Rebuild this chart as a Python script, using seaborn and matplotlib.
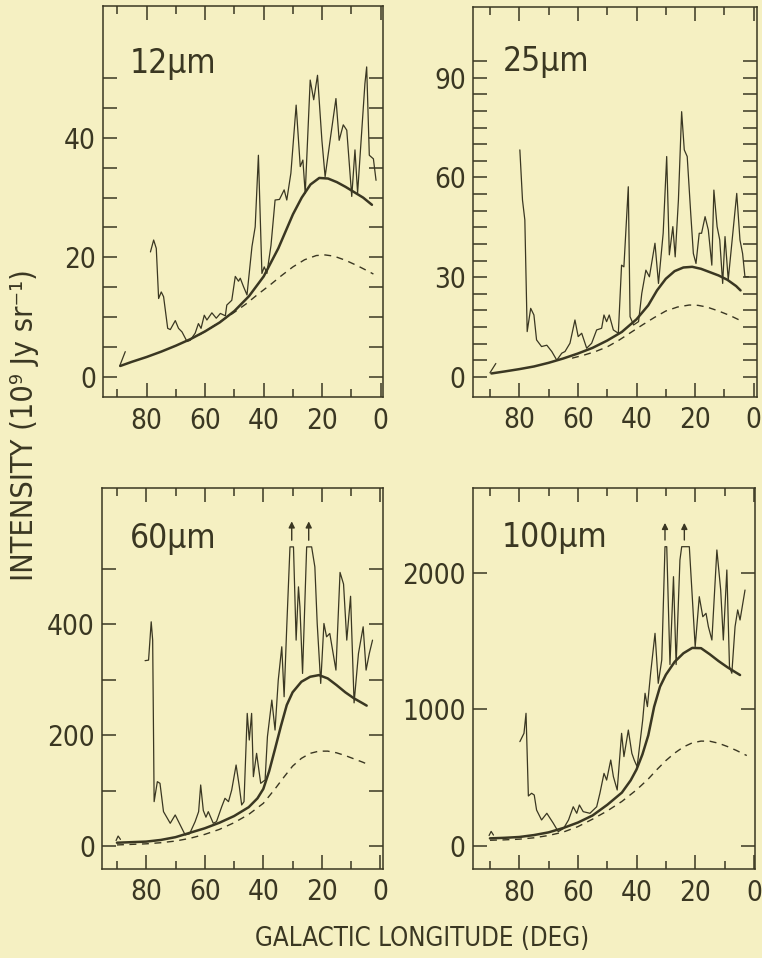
import numpy as np
import matplotlib
matplotlib.use("Agg")
import matplotlib.pyplot as plt
import seaborn as sns

# galactic longitude (deg) / intensity (1e9 Jy/sr)

# ---- 12 micron ----
obs12_lon = [78.7, 77.6, 76.7, 75.9, 75.0, 74.2, 72.8, 71.9, 70.2, 69.1,
             67.9, 66.2, 65.1, 63.4, 62.3, 61.4, 60.3, 59.4, 57.7, 56.2,
             54.8, 53.1, 52.6, 50.9, 49.7, 48.6, 48.0, 46.9, 45.7, 44.0,
             42.9, 41.8, 40.6, 39.8, 38.9, 37.5, 36.1, 34.6, 33.0, 32.1,
             30.7, 28.9, 27.5, 26.6, 25.8, 24.1, 22.9, 21.6, 20.1, 19.0,
             17.3, 15.3, 14.2, 12.8, 11.6, 9.9, 8.8, 7.9, 5.4, 4.8,
             3.9, 2.5, 1.6]
obs12_val = [20.9, 22.9, 21.5, 13.1, 14.2, 13.4, 8.1, 7.9, 9.4, 8.1,
             7.5, 5.9, 6.1, 7.3, 8.9, 8.1, 10.3, 9.5, 10.7, 9.8,
             10.6, 10.2, 12.0, 12.8, 16.8, 16.0, 16.5, 15.1, 13.7, 21.8,
             25.1, 37.1, 17.3, 18.4, 17.3, 22.0, 29.6, 29.7, 31.3, 29.6,
             34.1, 45.5, 35.2, 36.3, 30.7, 49.7, 46.4, 50.5, 39.6, 33.5,
             39.6, 46.6, 39.6, 42.2, 41.3, 30.2, 38.0, 30.8, 49.1, 51.9,
             37.1, 36.5, 32.9]
stub12_lon = [89.2, 87.3]
stub12_val = [1.8, 4.2]
model12_lon = [89, 85, 80, 75, 70, 65, 60, 55, 50, 45, 40, 35, 30, 27, 24,
               21, 18, 15, 12, 9, 6, 3]
model12_val = [1.8, 2.5, 3.3, 4.2, 5.2, 6.3, 7.6, 9.1, 11.0, 13.5, 16.8,
               21.5, 27.2, 30.0, 32.2, 33.3, 33.2, 32.6, 31.8, 30.9, 30.0, 28.8]
dash12_lon = [62, 58, 54, 50, 46, 42, 38, 34, 30, 26, 22, 19, 16, 12, 8, 4, 2.5]
dash12_val = [7.0, 8.2, 9.5, 10.8, 12.2, 13.8, 15.3, 16.9, 18.4, 19.6, 20.3,
              20.4, 20.2, 19.5, 18.6, 17.6, 17.2]

# ---- 25 micron ----
obs25_lon = [79.8, 78.9, 78.1, 77.3, 76.1, 75.0, 74.1, 72.4, 70.6, 68.9,
             67.2, 65.5, 64.4, 62.7, 61.0, 59.9, 58.7, 57.0, 55.3, 53.6,
             51.9, 51.1, 50.2, 49.3, 47.9, 46.2, 45.1, 44.3, 42.8, 42.2,
             41.0, 39.3, 38.2, 36.8, 35.6, 33.7, 32.5, 30.9, 29.7, 28.8,
             27.6, 26.8, 25.7, 24.6, 23.7, 22.7, 21.5, 20.6, 19.7, 18.6,
             17.8, 16.6, 15.5, 14.3, 13.6, 12.5, 11.6, 10.6, 9.8, 8.7,
             5.8, 4.7, 3.8, 3.0, 1.8]
obs25_val = [68.3, 53.2, 47.2, 13.6, 20.6, 18.6, 11.1, 9.1, 9.5, 7.6,
             5.0, 7.1, 7.6, 10.1, 17.1, 12.1, 13.1, 8.6, 10.1, 14.1,
             14.6, 18.6, 16.6, 18.6, 14.1, 13.1, 33.6, 33.1, 57.2, 18.1,
             15.6, 16.6, 25.1, 32.1, 30.1, 40.2, 28.1, 43.2, 66.3, 36.7,
             45.2, 36.1, 53.2, 79.8, 68.3, 66.3, 49.2, 37.1, 34.1, 43.2,
             43.2, 48.2, 44.2, 33.6, 56.2, 45.2, 41.2, 28.1, 42.2, 29.2,
             55.2, 41.2, 37.1, 30.1, 30.1]
stub25_lon = [90.0, 88.0]
stub25_val = [1.2, 4.0]
model25_lon = [89.5, 85, 80, 75, 70, 65, 60, 55, 50, 45, 40, 36, 33, 30, 27,
               24, 21, 18, 15, 12, 9, 6, 4.5]
model25_val = [1.0, 1.6, 2.3, 3.1, 4.2, 5.5, 7.0, 8.7, 10.9, 13.5, 17.3,
               21.5, 26.0, 29.5, 31.8, 32.9, 33.1, 32.5, 31.5, 30.5, 29.2,
               27.3, 26.0]
dash25_lon = [62, 58, 54, 50, 46, 42, 38, 34, 30, 26, 22, 19, 16, 12, 8, 4.7]
dash25_val = [5.6, 6.5, 7.6, 9.0, 11.0, 13.3, 15.6, 17.8, 19.8, 21.0, 21.6,
              21.5, 21.0, 19.8, 18.4, 17.0]

# ---- 60 micron ----
obs60_lon = [80.4, 79.2, 78.3, 77.8, 77.3, 76.2, 75.3, 74.1, 73.0, 71.8,
             70.1, 68.4, 66.7, 65.2, 63.3, 62.1, 61.4, 60.5, 59.6, 58.8,
             57.1, 56.0, 54.2, 53.1, 51.9, 50.8, 49.3, 48.2, 47.4, 46.6,
             45.5, 44.8, 44.0, 43.4, 42.3, 40.9, 39.4, 38.6, 37.1, 36.0,
             34.9, 33.7, 32.9, 32.0, 30.9, 29.7, 28.8, 28.0, 27.5, 26.6,
             25.2, 23.5, 22.4, 21.6, 20.4, 19.3, 18.4, 17.3, 15.2, 13.8,
             12.6, 11.5, 10.2, 9.0, 7.5, 5.9, 4.9, 3.8, 2.7]
obs60_val = [334, 335, 404, 371, 80, 116, 113, 62, 52, 41,
             56, 38, 20, 22, 44, 62, 110, 64, 52, 62,
             41, 44, 71, 86, 80, 101, 146, 107, 74, 80,
             239, 191, 239, 125, 167, 113, 119, 197, 263, 209,
             299, 359, 269, 395, 539, 539, 371, 467, 431, 311,
             539, 539, 503, 401, 293, 401, 377, 383, 317, 493,
             472, 371, 450, 258, 347, 395, 317, 347, 371]
stub60_lon = [90.3, 89.6, 88.8]
stub60_val = [10, 18, 12]
model60_lon = [90, 85, 80, 75, 70, 65, 60, 55, 50, 45, 42, 40, 38, 36, 34,
               32, 30, 27, 24, 21, 18, 15, 12, 9, 6, 4.7]
model60_val = [6, 7, 8, 11, 16, 24, 32, 42, 54, 70, 86, 103, 135, 175, 216,
               254, 277, 296, 305, 308, 302, 290, 277, 266, 257, 253]
dash60_lon = [90, 85, 80, 75, 70, 65, 60, 55, 50, 45, 40, 36, 33, 30, 27, 24,
              21, 18, 15, 12, 9, 6, 4.7]
dash60_val = [2, 3, 4, 6, 9, 14, 21, 30, 42, 57, 77, 103, 124, 144, 158, 167,
              171, 171, 168, 163, 157, 151, 148]
arrows60_lon = [30.3, 24.5]
arrows60_val = [551, 585]

# ---- 100 micron ----
obs100_lon = [79.8, 78.4, 77.7, 76.9, 75.8, 74.9, 74.1, 72.4, 70.6, 68.4,
              66.7, 64.9, 63.2, 61.6, 60.4, 59.5, 58.2, 55.9, 53.6, 52.5,
              51.1, 50.2, 48.8, 47.9, 46.6, 45.1, 44.3, 42.8, 41.6, 40.8,
              39.8, 37.9, 37.1, 36.3, 35.2, 33.7, 32.6, 31.4, 30.3, 29.7,
              28.6, 27.4, 26.5, 25.2, 24.6, 22.0, 20.0, 18.6, 17.4, 16.3,
              15.5, 14.3, 12.6, 11.3, 10.4, 9.2, 8.3, 7.5, 6.4, 5.5,
              4.7, 3.0]
obs100_val = [764, 825, 972, 365, 385, 372, 262, 189, 238, 165,
              103, 127, 189, 286, 238, 299, 250, 238, 286, 385,
              531, 482, 629, 507, 409, 825, 654, 849, 678, 629,
              580, 923, 1119, 1021, 1266, 1559, 1192, 1364, 2195, 2195,
              1330, 1975, 1330, 2098, 2195, 2195, 1461, 1828, 1681, 1706,
              1608, 1510, 2171, 1877, 1510, 2024, 1315, 1266, 1608, 1731,
              1657, 1877]
stub100_lon = [90.3, 89.6, 88.8]
stub100_val = [75, 105, 78]
model100_lon = [90, 85, 80, 75, 70, 65, 60, 55, 50, 45, 42, 40, 38, 36, 34,
                32, 30, 27, 24, 21, 18, 15, 12, 9, 6, 4.7]
model100_val = [54, 58, 64, 78, 98, 130, 170, 222, 300, 390, 480, 560, 670,
                810, 1020, 1167, 1255, 1350, 1413, 1452, 1450, 1405, 1355,
                1310, 1270, 1253]
dash100_lon = [90, 85, 80, 75, 70, 65, 60, 55, 50, 45, 40, 36, 33, 30, 27,
               24, 21, 18, 15, 12, 9, 6, 3, 2.4]
dash100_val = [40, 43, 48, 58, 75, 100, 140, 195, 255, 325, 410, 490, 560,
               625, 680, 725, 755, 768, 767, 752, 728, 700, 668, 662]
arrows100_lon = [30.3, 23.7]
arrows100_val = [2244, 2370]

# axis ticks / labels
x_major = [80, 60, 40, 20, 0]
x_minor = [90, 70, 50, 30, 10]
y12_ticks = [0, 5, 10, 15, 20, 25, 30, 35, 40, 45, 50]
y12_labels = [0, 20, 40]
y25_ticks = list(range(0, 100, 5))
y25_labels = [0, 30, 60, 90]
y60_ticks = [0, 100, 200, 300, 400, 500]
y60_labels = [0, 200, 400]
y100_ticks = [0, 1000, 2000]
y100_labels = [0, 1000, 2000]

BG = "#f5f0c2"
INK = "#3a3722"

sns.set_theme(style="ticks")
plt.rcParams["font.family"] = ["Liberation Sans Narrow", "DejaVu Sans"]
plt.rcParams["font.stretch"] = "condensed"
plt.rcParams["axes.facecolor"] = BG
plt.rcParams["figure.facecolor"] = BG

fig = plt.figure(figsize=(7.62, 9.58), dpi=100)

panels = [
    dict(rect=[0.1352, 0.5856, 0.3675, 0.4081], name="12µm",
         obs=(obs12_lon, obs12_val), stub=(stub12_lon, stub12_val),
         model=(model12_lon, model12_val), dash=(dash12_lon, dash12_val),
         xlim=(94.9, -0.8), ylim=(-3.4, 62.1),
         yt=y12_ticks, yl=y12_labels, arrows=None, lab=(0.096, 0.829)),
    dict(rect=[0.6203, 0.5859, 0.3727, 0.4071], name="25µm",
         obs=(obs25_lon, obs25_val), stub=(stub25_lon, stub25_val),
         model=(model25_lon, model25_val), dash=(dash25_lon, dash25_val),
         xlim=(95.9, -1.0), ylim=(-6.0, 111.4),
         yt=y25_ticks, yl=y25_labels, arrows=None, lab=(0.107, 0.836)),
    dict(rect=[0.1335, 0.0934, 0.3696, 0.3975], name="60µm",
         obs=(obs60_lon, obs60_val), stub=(stub60_lon, stub60_val),
         model=(model60_lon, model60_val), dash=(dash60_lon, dash60_val),
         xlim=(95.2, -1.0), ylim=(-40.5, 645.6),
         yt=y60_ticks, yl=y60_labels, arrows=(arrows60_lon, arrows60_val),
         lab=(0.10, 0.841)),
    dict(rect=[0.6203, 0.0929, 0.3705, 0.3980], name="100µm",
         obs=(obs100_lon, obs100_val), stub=(stub100_lon, stub100_val),
         model=(model100_lon, model100_val), dash=(dash100_lon, dash100_val),
         xlim=(95.9, -0.4), ylim=(-171, 2628),
         yt=y100_ticks, yl=y100_labels, arrows=(arrows100_lon, arrows100_val),
         lab=(0.104, 0.845)),
]

for p in panels:
    ax = fig.add_axes(p["rect"])
    ax.set_facecolor(BG)

    sns.lineplot(x=p["obs"][0], y=p["obs"][1], ax=ax, color=INK, lw=0.9,
                 estimator=None, sort=False, legend=False)
    sns.lineplot(x=p["stub"][0], y=p["stub"][1], ax=ax, color=INK, lw=0.9,
                 estimator=None, sort=False, legend=False)
    sns.lineplot(x=p["model"][0], y=p["model"][1], ax=ax, color=INK, lw=1.8,
                 estimator=None, sort=False, legend=False)
    sns.lineplot(x=p["dash"][0], y=p["dash"][1], ax=ax, color=INK, lw=1.0,
                 linestyle=(0, (5, 4)), estimator=None, sort=False, legend=False)

    if p["arrows"] is not None:
        lons, vals = p["arrows"]
        for lon in lons:
            ax.annotate("", xy=(lon, vals[1]), xytext=(lon, vals[0]),
                        arrowprops=dict(arrowstyle="-|>", color=INK, lw=1.0,
                                        mutation_scale=9, shrinkA=0, shrinkB=0))

    ax.set_xlim(*p["xlim"])
    ax.set_ylim(*p["ylim"])
    ax.set_xticks(x_major)
    ax.set_xticks(x_minor, minor=True)
    ax.set_xticklabels([str(v) for v in x_major])
    ax.set_yticks(p["yt"])
    ax.set_yticklabels([str(v) if v in p["yl"] else "" for v in p["yt"]])
    ax.set_xlabel("")
    ax.set_ylabel("")

    ax.tick_params(which="both", direction="in", top=True, right=True,
                   color=INK, labelcolor=INK, width=1.1, labelsize=20)
    ax.tick_params(which="major", length=10)
    ax.tick_params(which="minor", length=5.5)
    ax.tick_params(axis="x", pad=7)
    ax.tick_params(axis="y", pad=5)
    for s in ax.spines.values():
        s.set_color(INK)
        s.set_linewidth(1.1)

    ax.text(p["lab"][0], p["lab"][1], p["name"], transform=ax.transAxes,
            fontsize=24, color=INK, ha="left", va="baseline")

fig.text(0.0315, 0.556, "INTENSITY (10⁹ Jy sr⁻¹)", rotation=90,
         ha="center", va="center", fontsize=22, color=INK)
fig.text(0.5545, 0.020, "GALACTIC LONGITUDE (DEG)", ha="center", va="center",
         fontsize=18.5, color=INK)

fig.savefig("out.png", dpi=100, facecolor=BG)
